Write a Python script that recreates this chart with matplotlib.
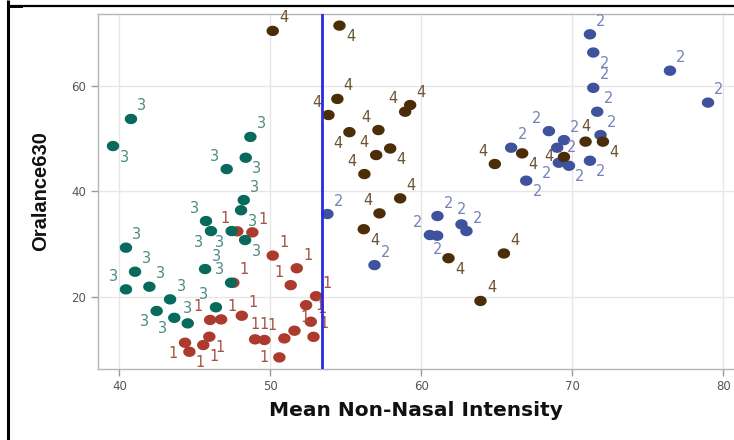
import numpy as np
import matplotlib
matplotlib.use("Agg")
import matplotlib.pyplot as plt
from matplotlib.path import Path
from matplotlib.lines import Line2D
from matplotlib.transforms import blended_transform_factory

# ---- data: (mean non-nasal intensity, Oralance630) per cluster ----
c1_x = [48.8, 47.8, 50.15, 51.74, 51.34, 47.54, 53.02, 52.36, 52.67, 52.85, 51.59,
        50.92, 50.59, 48.98, 49.6, 48.1, 46.0, 46.73, 45.55, 45.95, 44.34, 44.63]
c1_y = [32.2, 32.4, 27.8, 25.4, 22.2, 22.65, 20.1, 18.4, 15.26, 12.4, 13.56,
        12.1, 8.5, 11.92, 11.8, 16.4, 15.6, 15.7, 10.84, 12.42, 11.28, 9.57]

c2_x = [71.16, 71.38, 71.38, 71.64, 71.86, 71.16, 76.46, 78.98, 68.44, 69.44, 68.99,
        69.1, 69.77, 65.94, 66.94, 61.06, 62.65, 62.98, 60.56, 61.04, 56.89, 53.77]
c2_y = [69.75, 66.3, 59.6, 55.07, 50.65, 45.78, 62.85, 56.8, 51.4, 49.7, 48.25,
        45.4, 44.83, 48.25, 42.0, 35.3, 33.72, 32.45, 31.7, 31.57, 26.0, 35.68]

c3_x = [39.57, 40.76, 47.1, 48.67, 48.36, 48.23, 48.05, 45.73, 46.06, 47.43, 48.32,
        40.43, 41.03, 40.43, 41.98, 43.35, 42.46, 43.63, 44.52, 45.67, 47.39, 46.39]
c3_y = [48.57, 53.7, 44.2, 50.3, 46.35, 38.33, 36.4, 34.35, 32.45, 32.45, 30.75,
        29.3, 24.74, 21.4, 21.9, 19.5, 17.3, 16.0, 14.95, 25.25, 22.65, 18.0]

c4_x = [50.15, 54.57, 54.43, 53.84, 55.23, 57.15, 57.93, 57.0, 56.22, 58.92, 59.25,
        58.59, 57.22, 56.18, 61.79, 65.46, 63.91, 64.86, 66.67, 69.44, 70.87, 72.02]
c4_y = [70.4, 71.4, 57.5, 54.45, 51.2, 51.6, 48.1, 46.86, 43.26, 55.07, 56.34,
        38.65, 35.8, 32.8, 27.3, 28.2, 19.2, 45.16, 47.18, 46.5, 49.4, 49.4]

cutoff_x = 53.44
cutoff_text = "53.4"

x_ticks = [40, 50, 60, 70, 80]
y_ticks = [20, 40, 60]
x_title = "Mean Non-Nasal Intensity"
y_title = "Oralance630"

# ---- where each cluster number sits around its dot ----
c1_pos = ["ur", "ul", "ur", "ur", "ul", "ur", "ur", "r", "ur", "ur", "ur",
          "ul", "l", "u", "u", "ur", "ul", "ur", "lr", "lr", "ll", "lr"]
c2_pos = ["ur", "lr", "ur", "ur", "ur", "lr", "ur", "ur", "ul", "ur", "r",
          "ll", "lr", "ur", "lr", "ur", "u", "ur", "ul", "d", "ur", "ur"]
c3_pos = ["lr", "ur", "ul", "ur", "lr", "ur", "lr", "ul", "ll", "ll", "lr",
          "ur", "ur", "ul", "ur", "ur", "ll", "ll", "u", "ur", "ul", "ul"]
c4_pos = ["ur", "lr", "ur", "ul", "ll", "ul", "lr", "ul", "ul", "ul", "ur",
          "ur", "ul", "lr", "lr", "ur", "ur", "ul", "lr", "l", "u", "lr"]

OFFSETS = {"ur": (11, 13), "lr": (11, -11), "ul": (-12, 13), "ll": (-12, -11),
           "r": (14, 0), "l": (-15, 0), "u": (0, 15), "d": (0, -14)}

W, H = 734, 440
fig = plt.figure(figsize=(W / 100, H / 100), dpi=100, facecolor="white")

# axes box in pixel terms
left_px, right_px, top_px, bottom_px = 97.6, 735.5, 14, 369
ax = fig.add_axes([left_px / W, 1 - bottom_px / H,
                   (right_px - left_px) / W, (bottom_px - top_px) / H])
ax.set_xlim(38.55, 80.8)
ax.set_ylim(6.3, 73.6)

ax.set_xticks(x_ticks)
ax.set_yticks(y_ticks)
ax.grid(True, color="#e6e6e6", linewidth=1.0, zorder=0)
ax.set_axisbelow(True)
for sp in ax.spines.values():
    sp.set_color("#b5b5b5")
    sp.set_linewidth(1.0)
ax.tick_params(axis="both", colors="#9a9a9a", length=5, width=1,
               labelcolor="#555555", labelsize=8.5, pad=3)

# slightly wide dots
t = np.linspace(0, 2 * np.pi, 60)
ell = Path(np.column_stack([1.2 * np.cos(t), np.sin(t)]))

clusters = [
    ("2", c2_x, c2_y, c2_pos, "#3f529e", "#7682b6"),
    ("1", c1_x, c1_y, c1_pos, "#ac3b2d", "#a35246"),
    ("4", c4_x, c4_y, c4_pos, "#4b2d07", "#6b5333"),
    ("3", c3_x, c3_y, c3_pos, "#086a5d", "#4f8a82"),
]
for z, (name, xs, ys, pos, col, tcol) in enumerate(clusters):
    ax.scatter(xs, ys, s=80, marker=ell, color=col, edgecolors="none", zorder=3 + z)
    for x, y, p in zip(xs, ys, pos):
        dx, dy = OFFSETS[p]
        ax.annotate(name, (x, y), xytext=(dx, dy), textcoords="offset pixels",
                    ha="center", va="center", fontsize=10.5, color=tcol,
                    zorder=8, annotation_clip=False)

ax.axvline(cutoff_x, color="#2a2ae0", linewidth=2.0, zorder=9)
trans = blended_transform_factory(ax.transData, fig.transFigure)
fig.text(cutoff_x, 1 - 3.5 / H, cutoff_text, transform=trans, ha="center",
         va="bottom", fontsize=10, color="#a8a8dc")

fig.text(416 / W, 1 - 410 / H, x_title, ha="center", va="center",
         fontsize=14.5, fontweight="bold", family="DejaVu Sans", color="#111111")
fig.text(41 / W, 1 - 191 / H, y_title, ha="center", va="center", rotation=90,
         fontsize=14.5, fontweight="bold", family="Liberation Sans", color="#111111")

# outer frame strokes
def px_line(xs, ys, lw):
    fig.add_artist(Line2D([v / W for v in xs], [1 - v / H for v in ys],
                          transform=fig.transFigure, color="black",
                          linewidth=lw, solid_capstyle="butt"))

px_line([8, W], [6.3, 6.3], 1.6)
px_line([7.5, 7.5], [0, H], 2.2)
px_line([8, 23], [7.3, 7.3], 1.4)

fig.savefig("out.png", dpi=100, facecolor="white")
